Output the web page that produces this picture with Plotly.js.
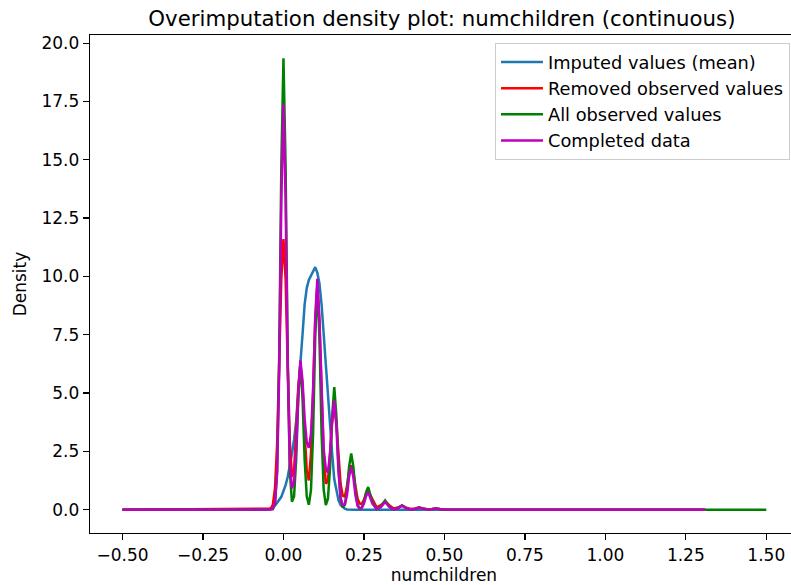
<!DOCTYPE html>
<html>
<head>
<meta charset="utf-8">
<script src="https://cdn.plot.ly/plotly-3.0.1.min.js"></script>
<style>
html, body { margin: 0; padding: 0; overflow: hidden; background: #fff; }
#chart { width: 810px; height: 585px; }
</style>
</head>
<body>
<div id="chart"></div>
<script>
// x grid (numchildren, scaled)
const xGrid = [-0.5, -0.05,
  -0.0395, -0.0329, -0.0263, -0.0197, -0.0132, -0.0066, 0, 0.0066, 0.0132, 0.0197,
  0.0263, 0.0329, 0.0395, 0.0461, 0.0526, 0.0592, 0.0658, 0.0724, 0.0789, 0.0855,
  0.0921, 0.0987, 0.1053, 0.1118, 0.1184, 0.125, 0.1316, 0.1382, 0.1447, 0.1513,
  0.1579, 0.1645, 0.1711, 0.1776, 0.1842, 0.1908, 0.1974, 0.2039, 0.2105, 0.2171,
  0.2237, 0.2303, 0.2368, 0.2434, 0.25, 0.2566, 0.2632,
  0.2763, 0.2895, 0.3026, 0.3158, 0.3289, 0.3421, 0.3553, 0.3684, 0.3816, 0.3947,
  0.4079, 0.4211, 0.4342, 0.4474, 0.4605, 0.4737, 0.4868, 0.5,
  0.55, 1.31];
const xGreen = [...xGrid, 1.5];

const imputedMean = [0, 0,
  0.05, 0.1, 0.18, 0.3, 0.42, 0.55, 0.8, 1.05, 1.4, 1.85,
  2.4, 3.0, 3.8, 5.1, 6.5, 7.5, 8.8, 9.5, 9.85, 10.05,
  10.2, 10.4, 10.15, 9.7, 8.8, 7.5, 5.9, 4.6, 3.6, 2.4,
  1.3, 0.8, 0.4, 0.2, 0.1, 0.04, 0.01, 0, 0, 0,
  0, 0, 0, 0, 0, 0, 0,
  0, 0, 0, 0, 0, 0, 0, 0, 0, 0,
  0, 0, 0, 0, 0, 0, 0, 0,
  0, 0];

const removedObserved = [0, 0.01,
  0.04, 0.22, 0.92, 2.80, 6.16, 9.91, 11.6, 9.91, 6.18, 2.92,
  1.41, 1.71, 3.33, 5.29, 6.2, 5.29, 3.32, 1.67, 1.25, 2.40,
  5.06, 8.11, 9.5, 8.11, 5.06, 2.37, 1.11, 1.24, 2.37, 3.76,
  4.4, 3.76, 2.35, 1.10, 0.6, 0.56, 1.02, 1.62, 1.9, 1.62,
  1.01, 0.47, 0.26, 0.25, 0.42, 0.68, 0.8,
  0.43, 0.1, 0.19, 0.35, 0.19, 0.05, 0.09, 0.17, 0.09, 0.03,
  0.05, 0.09, 0.05, 0.015, 0.027, 0.05, 0.027, 0.01,
  0, 0];

const allObserved = [0, 0,
  0, 0.02, 0.26, 1.69, 6.56, 14.76, 19.35, 14.76, 6.56, 1.70,
  0.34, 0.57, 2.14, 4.81, 6.3, 4.81, 2.14, 0.56, 0.21, 0.85,
  3.29, 7.40, 9.7, 7.40, 3.29, 0.86, 0.2, 0.47, 1.78, 4.01,
  5.26, 4.01, 1.78, 0.46, 0.1, 0.21, 0.82, 1.84, 2.41, 1.84,
  0.82, 0.21, 0.05, 0.09, 0.33, 0.74, 0.97,
  0.33, 0.02, 0.14, 0.40, 0.14, 0.01, 0.064, 0.19, 0.064, 0.005,
  0.03, 0.09, 0.03, 0.003, 0.017, 0.05, 0.017, 0.003,
  0, 0, 0];

const completedData = [0, 0,
  0.01, 0.05, 0.28, 1.58, 5.94, 13.26, 17.40, 13.39, 6.19, 1.99,
  0.91, 1.21, 2.59, 4.92, 6.40, 5.54, 3.89, 2.89, 2.65, 3.25,
  5.11, 8.24, 9.90, 8.06, 4.75, 2.59, 1.75, 1.59, 2.41, 3.92,
  4.69, 3.55, 1.63, 0.48, 0.2, 0.22, 0.64, 1.42, 1.83, 1.40,
  0.62, 0.16, 0.06, 0.08, 0.26, 0.58, 0.76,
  0.26, 0.03, 0.11, 0.33, 0.11, 0.01, 0.058, 0.17, 0.058, 0.005,
  0.03, 0.09, 0.03, 0.003, 0.017, 0.05, 0.017, 0.003,
  0, 0];

const seriesNames = ["Imputed values (mean)", "Removed observed values", "All observed values", "Completed data"];
const xTickVals = [-0.5, -0.25, 0, 0.25, 0.5, 0.75, 1.0, 1.25, 1.5];
const xTickText = ["\u22120.50", "\u22120.25", "0.00", "0.25", "0.50", "0.75", "1.00", "1.25", "1.50"];
const yTickVals = [0, 2.5, 5, 7.5, 10, 12.5, 15, 17.5, 20];
const yTickText = ["0.0", "2.5", "5.0", "7.5", "10.0", "12.5", "15.0", "17.5", "20.0"];

const lw = 2.5;
const traces = [
  {x: xGrid, y: imputedMean, name: seriesNames[0], type: "scatter", mode: "lines", line: {color: "#1f77b4", width: lw}},
  {x: xGrid, y: removedObserved, name: seriesNames[1], type: "scatter", mode: "lines", line: {color: "#ff0000", width: lw}},
  {x: xGreen, y: allObserved, name: seriesNames[2], type: "scatter", mode: "lines", line: {color: "#008000", width: lw}},
  {x: xGrid, y: completedData, name: seriesNames[3], type: "scatter", mode: "lines", line: {color: "#bf00bf", width: lw}}
];

const font = {family: "DejaVu Sans, sans-serif", size: 17, color: "#000"};
const legendFont = {family: "DejaVu Sans, sans-serif", size: 17.8, color: "#000"};
const layout = {
  width: 810, height: 585,
  margin: {l: 90, r: 12, t: 35, b: 52},
  paper_bgcolor: "#fff", plot_bgcolor: "#fff",
  font: font,
  showlegend: true,
  title: {text: "Overimputation density plot: numchildren (continuous)", font: {family: "DejaVu Sans, sans-serif", size: 21.3, color: "#000"},
          xref: "paper", x: 0.497, xanchor: "center", yref: "container", y: 0.969, yanchor: "middle"},
  xaxis: {range: [-0.601, 1.5985], tickvals: xTickVals, ticktext: xTickText, ticks: "outside", ticklen: 6, tickwidth: 1.3, tickcolor: "#000",
          showline: true, linecolor: "#000", linewidth: 1.3, mirror: true, showgrid: false, zeroline: false,
          tickfont: font, title: {text: "numchildren", font: font, standoff: 6}},
  yaxis: {range: [-1.0, 20.35], tickvals: yTickVals, ticktext: yTickText, ticks: "outside", ticklen: 6, tickwidth: 1.3, tickcolor: "#000",
          showline: true, linecolor: "#000", linewidth: 1.3, mirror: true, showgrid: false, zeroline: false,
          tickfont: font, title: {text: "Density", font: font, standoff: 10}},
  legend: {x: 0.9887, xanchor: "right", y: 0.984, yanchor: "top", bgcolor: "rgba(255,255,255,0.8)", bordercolor: "#cccccc", borderwidth: 1,
           font: legendFont, traceorder: "normal", itemwidth: 42}
};

Plotly.newPlot("chart", traces, layout, {staticPlot: true, displayModeBar: false});
</script>
</body>
</html>
